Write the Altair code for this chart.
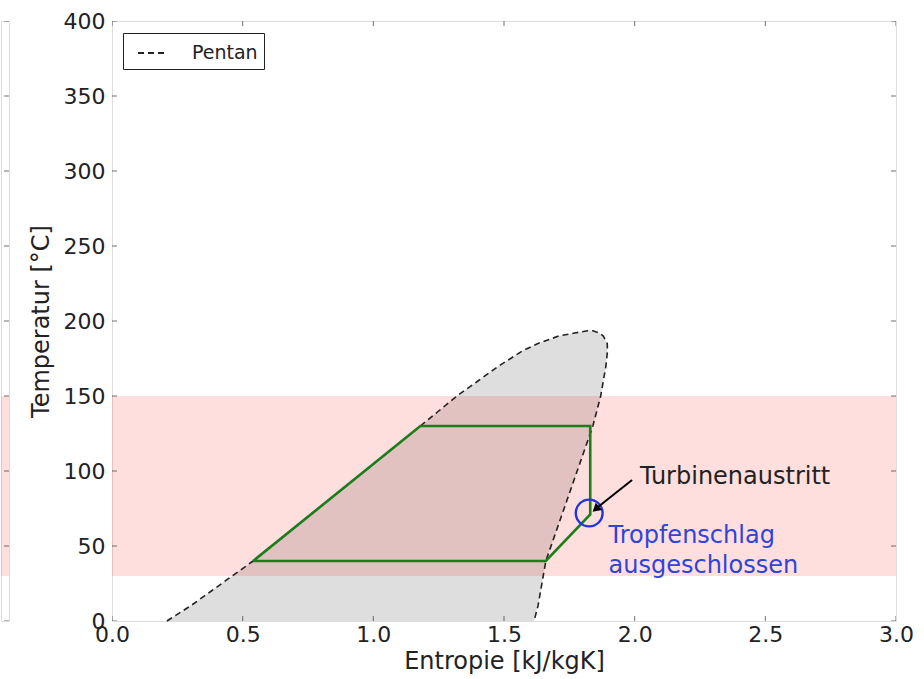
import altair as alt
import pandas as pd

# ---- data ----
dome_T = [0, 10, 20, 30, 40, 50, 60, 70, 80, 90, 100, 110, 120, 130, 140, 150, 160, 170, 180, 185, 190, 192, 193.5]
dome_s_liquid = [0.21, 0.30, 0.38, 0.46, 0.54, 0.611, 0.682, 0.753, 0.824, 0.896, 0.967, 1.038, 1.109, 1.18, 1.25, 1.32, 1.40, 1.48, 1.57, 1.63, 1.71, 1.77, 1.82]
dome_s_vapour = [1.615, 1.63, 1.64, 1.65, 1.66, 1.68, 1.70, 1.72, 1.74, 1.76, 1.78, 1.80, 1.82, 1.84, 1.855, 1.87, 1.88, 1.89, 1.896, 1.895, 1.88, 1.865, 1.84]

cycle_s = [0.54, 1.18, 1.83, 1.83, 1.66, 0.54]
cycle_T = [40, 130, 130, 71, 40, 40]

band_T = [30, 150]
exit_s, exit_T = 1.826, 72
arrow_from = (1.99, 94)
arrow_to = (1.845, 74)

x_ticks = [0.0, 0.5, 1.0, 1.5, 2.0, 2.5, 3.0]
y_ticks = [0, 50, 100, 150, 200, 250, 300, 350, 400]

FONT = "DejaVu Sans"
XT = "Entropie [kJ/kgK]"
YT = "Temperatur [°C]"

xs = alt.Scale(domain=[0, 3], nice=False, zero=False)
ys = alt.Scale(domain=[0, 400], nice=False, zero=False)
xaxis = alt.Axis(values=x_ticks, format=".1f", ticks=False, domain=False, grid=False, labelFlush=False,
                 labelFontSize=22, labelFont=FONT, labelColor="#222", labelPadding=3,
                 titleFontSize=24, titleFont=FONT, titleFontWeight="normal", titleColor="#222", titlePadding=4)
yaxis = alt.Axis(values=y_ticks, format="d", ticks=False, domain=False, grid=False, labelFlush=False,
                 labelFontSize=22, labelFont=FONT, labelColor="#222", labelPadding=7,
                 titleFontSize=24, titleFont=FONT, titleFontWeight="normal", titleColor="#222", titlePadding=10)


def X(f, **kw):
    return alt.X(f, type="quantitative", scale=xs, axis=xaxis, title=XT, **kw)


def Y(f, **kw):
    return alt.Y(f, type="quantitative", scale=ys, axis=yaxis, title=YT, **kw)


dome_df = pd.DataFrame({"T": dome_T, "sl": dome_s_liquid, "sr": dome_s_vapour})
outline = pd.DataFrame({
    "s": dome_s_liquid + dome_s_vapour[::-1],
    "T": dome_T + dome_T[::-1],
    "i": list(range(2 * len(dome_T))),
    "series": ["Pentan"] * (2 * len(dome_T)),
})
cycle_df = pd.DataFrame({"s": cycle_s, "T": cycle_T, "i": list(range(len(cycle_s)))})
band_df = pd.DataFrame({"s": [0.0], "s2": [3.0], "T": [band_T[0]], "T2": [band_T[1]]})

dome_fill = alt.Chart(dome_df).mark_area(orient="horizontal", color="#dedede").encode(
    y=Y("T"), x=X("sl"), x2="sr")

band = alt.Chart(band_df).mark_rect(color="#ff0000", opacity=0.13).encode(
    x=X("s"), x2="s2", y=Y("T"), y2="T2")

dome_line = alt.Chart(outline).mark_line(color="#222", strokeWidth=1.6).encode(
    x=X("s"), y=Y("T"), order="i:Q",
    strokeDash=alt.StrokeDash("series:N", scale=alt.Scale(range=[[6, 4]]),
                              legend=alt.Legend(title=None, orient="none", legendX=122, legendY=12,
                                                padding=6, strokeColor="#222", fillColor="white",
                                                cornerRadius=0, labelFont=FONT, labelFontSize=19,
                                                labelColor="#222", symbolType="stroke", symbolSize=676,
                                                symbolStrokeWidth=1.8, symbolDash=[8, 10], symbolOffset=8,
                                                symbolStrokeColor="#222", labelOffset=27,
                                                labelExpr="datum.label + '\u00a0\u00a0\u00a0'")))

cycle = alt.Chart(cycle_df).mark_line(color="#1a7f1a", strokeWidth=2.6).encode(
    x=X("s"), y=Y("T"), order="i:Q")

circle = alt.Chart(pd.DataFrame({"s": [exit_s], "T": [exit_T]})).mark_point(
    shape="circle", size=720, filled=False, color="#2233dd", strokeWidth=2.4, opacity=1).encode(
    x=X("s"), y=Y("T"))

arrow_df = pd.DataFrame({"s": [arrow_from[0]], "T": [arrow_from[1]], "s2": [arrow_to[0]], "T2": [arrow_to[1]]})
arrow = alt.Chart(arrow_df).mark_rule(color="black", strokeWidth=2).encode(
    x=X("s"), y=Y("T"), x2="s2", y2="T2")
head = alt.Chart(pd.DataFrame({"s": [arrow_to[0] + 0.01], "T": [arrow_to[1] + 1.2]})).mark_point(
    shape="triangle", size=90, filled=True, color="black", angle=229, opacity=1).encode(
    x=X("s"), y=Y("T"))

label1 = alt.Chart(pd.DataFrame({"s": [2.02], "T": [96], "t": ["Turbinenaustritt"]})).mark_text(
    align="left", baseline="middle", font=FONT, fontSize=24, color="#222").encode(
    x=X("s"), y=Y("T"), text="t:N")
label2 = alt.Chart(pd.DataFrame({"s": [1.9, 1.9], "T": [56.5, 36.5],
                                 "t": ["Tropfenschlag", "ausgeschlossen"]})).mark_text(
    align="left", baseline="middle", font=FONT, fontSize=24, color="#2f44d8").encode(
    x=X("s"), y=Y("T"), text="t:N")

xt_df = pd.DataFrame({"v": x_ticks})
yt_df = pd.DataFrame({"v": y_ticks})
tick_kw = dict(color="#333", size=10, thickness=1, clip=True)
tb = alt.Chart(xt_df).mark_tick(orient="vertical", **tick_kw).encode(x=X("v"), y=alt.datum(0))
tt = alt.Chart(xt_df).mark_tick(orient="vertical", **tick_kw).encode(x=X("v"), y=alt.datum(400))
tl = alt.Chart(yt_df).mark_tick(orient="horizontal", **tick_kw).encode(y=Y("v"), x=alt.datum(0))
tr = alt.Chart(yt_df).mark_tick(orient="horizontal", **tick_kw).encode(y=Y("v"), x=alt.datum(3))

main = alt.layer(dome_fill, band, dome_line, cycle, circle, arrow, head, label1, label2,
                 tb, tt, tl, tr).properties(width=784, height=600)

# cropped neighbouring panel at the left edge
left_band = alt.Chart(band_df).mark_rect(color="#ff0000", opacity=0.13).encode(
    x=alt.X("s:Q", scale=alt.Scale(domain=[0, 3], nice=False), axis=None), x2="s2",
    y=alt.Y("T:Q", scale=alt.Scale(domain=[0, 400], nice=False), axis=None), y2="T2")
left_ticks = alt.Chart(yt_df).mark_tick(orient="horizontal", **tick_kw).encode(
    y=alt.Y("v:Q", scale=alt.Scale(domain=[0, 400], nice=False), axis=None), x=alt.datum(3))
left = alt.layer(left_band, left_ticks).properties(width=8, height=600)

chart = alt.hconcat(left, main, spacing=18).properties(
    padding={"left": 0, "top": 9, "right": 5, "bottom": 5}
).configure_view(stroke="#222", strokeWidth=1.2).configure(background="white")

chart.save("out.html", embed_options={"renderer": "svg", "actions": False})
